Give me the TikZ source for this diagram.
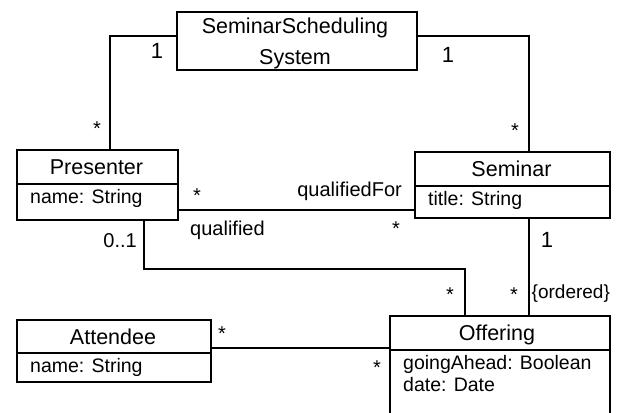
\documentclass[tikz,border=0pt]{standalone}
\usepackage{fontspec}
\setmainfont{Liberation Sans}
\begin{document}
\begin{tikzpicture}[x=1pt,y=-1pt,
  classbox/.style={draw, line width=2pt, inner sep=0pt, anchor=north west},
  divline/.style={line width=2pt},
  conn/.style={line width=1.2pt},
  titletext/.style={font=\fontsize{21.5}{26}\selectfont, inner sep=0pt, anchor=base},
  attrtext/.style={font=\fontsize{19.5}{24}\selectfont, inner sep=0pt, anchor=base west},
  multtext/.style={font=\fontsize{22}{26}\selectfont, inner sep=0pt, anchor=base},
  startext/.style={font=\fontsize{20}{24}\selectfont, inner sep=0pt, anchor=base},
  roletext/.style={font=\fontsize{20}{24}\selectfont, inner sep=0pt}
]
\useasboundingbox (0,0) rectangle (617,412);

% class boxes
\node[classbox, minimum width=240pt, minimum height=58pt] (sss) at (176,11) {};
\node[classbox, minimum width=161pt, minimum height=70pt] (pres) at (16,149) {};
\node[classbox, minimum width=195pt, minimum height=66pt] (sem) at (414,151) {};
\node[classbox, minimum width=194pt, minimum height=62pt] (att) at (16,319) {};
\node[classbox, minimum width=220pt, minimum height=105pt] (off) at (389,315) {};

% dividers
\draw[divline] ([yshift=-35pt]pres.north west) -- ([yshift=-35pt]pres.north east);
\draw[divline] ([yshift=-35pt]sem.north west) -- ([yshift=-35pt]sem.north east);
\draw[divline] ([yshift=-34pt]att.north west) -- ([yshift=-34pt]att.north east);
\draw[divline] ([yshift=-35pt]off.north west) -- ([yshift=-35pt]off.north east);

% texts in boxes
\node[titletext, font=\fontsize{21.5}{31}\selectfont, align=center, anchor=north] (sssT) at (295,17.5) {SeminarScheduling\\System};
\node[titletext] (presT) at (96.5,174) {Presenter};
\node[attrtext] (presA) at (30,203) {name: String};
\node[titletext] (semT) at (511.5,176) {Seminar};
\node[attrtext] (semA) at (428,205) {title: String};
\node[titletext] (attT) at (113,344) {Attendee};
\node[attrtext] (attA) at (30,372.5) {name: String};
\node[titletext] (offT) at (497,340.5) {Offering};
\node[attrtext] (offA) at (403,369.5) {goingAhead: Boolean};
\node[attrtext] (offB) at (403,391.5) {date: Date};

% connectors
\draw[conn] ([yshift=5pt]sss.west) -| ([xshift=12.5pt]pres.north);
\draw[conn] ([yshift=5pt]sss.east) -| ([xshift=16.5pt]sem.north);
\draw[conn] ([yshift=-25pt]pres.east) -- ([yshift=-25pt]pres.east -| sem.west);
\draw[conn] ([xshift=46.5pt]pres.south) -- ++(0,48) -| ([xshift=-35pt]off.north);
\draw[conn] ([xshift=16.5pt]sem.south) -- ([xshift=29pt]off.north);
\draw[conn] ([yshift=3pt]att.east) -- ([yshift=3pt]att.east -| off.west);

% multiplicities and roles
\node[multtext] (m1) at (157,58.5) {1};
\node[startext] (m2) at (97,135.5) {*};
\node[multtext] (m3) at (448,62.5) {1};
\node[startext] (m4) at (515,137) {*};
\node[startext] (m5) at (197,202) {*};
\node[roletext, anchor=base east] (r1) at (402,196) {qualifiedFor};
\node[roletext, anchor=base west] (r2) at (190,235.5) {qualified};
\node[startext] (m6) at (396,235) {*};
\node[roletext, anchor=base east] (m7) at (137,247.5) {0..1};
\node[multtext] (m8) at (547,247.5) {1};
\node[startext] (m9) at (450,301.5) {*};
\node[startext] (m10) at (514,301.5) {*};
\node[roletext, font=\fontsize{19}{24}\selectfont, anchor=base west] (c1) at (531.5,298.5) {\{ordered\}};
\node[startext] (m11) at (222,340) {*};
\node[startext] (m12) at (377,374.5) {*};
\end{tikzpicture}
\end{document}
